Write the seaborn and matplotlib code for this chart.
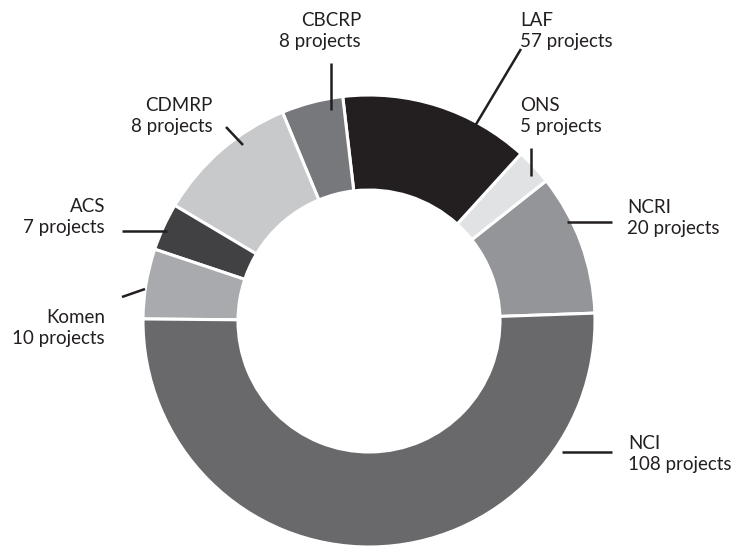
"""
Donut chart: jumlah proyek per pemberi dana.
Ukuran irisan mengikuti gambar referensi (bukan proporsional penuh ke label).
"""

import matplotlib

matplotlib.use("Agg")
import matplotlib.pyplot as plt  # noqa: E402
import seaborn as sns  # noqa: E402

# --- Data (urutan berlawanan jarum jam, mulai dari kanan) ---------------
funders = ["NCRI", "ONS", "LAF", "CBCRP", "CDMRP", "ACS", "Komen", "NCI"]
projects = [20, 5, 57, 8, 8, 7, 10, 108]
# porsi cincin seperti tergambar (persen keliling)
ring_share = [10.1, 2.6, 13.6, 4.4, 10.2, 3.4, 5.0, 50.7]
greys = ["#939598", "#e1e2e3", "#231f20", "#77787b",
         "#c8c9cb", "#414042", "#a8aaad", "#69696c"]

# --- Layout (piksel, origin kiri-atas) ----------------------------------
W, H = 745, 559
CENTER = (369, 321)
R_OUT, R_IN = 226, 131

# posisi label: (x, y, ha)
label_pos = {
    "NCRI": (627, 218, "left"),
    "ONS": (520, 116, "left"),
    "LAF": (520, 31, "left"),
    "CBCRP": (361, 31, "right"),
    "CDMRP": (213, 116, "right"),
    "ACS": (105, 217, "right"),
    "Komen": (105, 328, "right"),
    "NCI": (628, 454, "left"),
}
# garis penunjuk: ((x0, y0), (x1, y1))
leader = {
    "NCRI": ((567, 222), (612, 222)),
    "ONS": ((531, 148), (531, 176)),
    "LAF": ((521, 49), (475, 126)),
    "CBCRP": ((331, 63), (331, 110)),
    "CDMRP": ((226, 127), (243, 145)),
    "ACS": ((122, 231), (167, 231)),
    "Komen": ((122, 297), (145, 289)),
    "NCI": ((562, 452), (612, 452)),
}

sns.set_theme(style="white")
plt.rcParams["font.family"] = ["Lato", "DejaVu Sans"]
TEXT_COLOR = "#231f20"

fig = plt.figure(figsize=(W / 100, H / 100), dpi=100)
ax = fig.add_axes([0, 0, 1, 1])

ax.pie(ring_share, colors=greys, startangle=2, counterclock=True,
       center=(CENTER[0], H - CENTER[1]), radius=R_OUT, frame=False,
       wedgeprops=dict(width=R_OUT - R_IN, edgecolor="white", linewidth=2.2))

for name, n in zip(funders, projects):
    x, y, ha = label_pos[name]
    ax.text(x, H - y, f"{name}\n{n} projects", ha=ha, va="center",
            fontsize=13.5, color=TEXT_COLOR, linespacing=1.3)
    (x0, y0), (x1, y1) = leader[name]
    ax.plot([x0, x1], [H - y0, H - y1], color=TEXT_COLOR, lw=1.8,
            solid_capstyle="butt")

ax.set_xlim(0, W)
ax.set_ylim(0, H)
ax.set_aspect("equal")
ax.axis("off")

fig.savefig("out.png", dpi=100)
plt.close(fig)
